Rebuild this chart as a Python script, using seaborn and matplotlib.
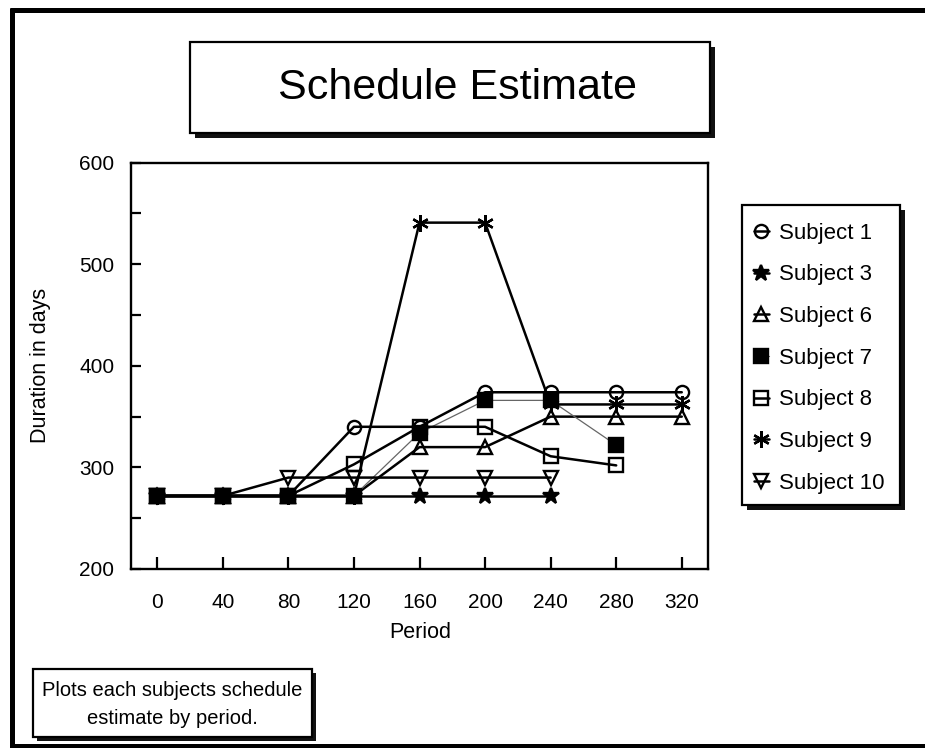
import matplotlib
matplotlib.use("Agg")
import matplotlib.pyplot as plt
from matplotlib.patches import Rectangle
from matplotlib.lines import Line2D
from matplotlib.ticker import MultipleLocator
import seaborn as sns
import pandas as pd

# ---- data ----
periods = [0, 40, 80, 120, 160, 200, 240, 280, 320]
subjects = ["Subject 1", "Subject 3", "Subject 6", "Subject 7",
            "Subject 8", "Subject 9", "Subject 10"]
subject_1 = [272, 272, 272, 340, 340, 374, 374, 374, 374]
subject_3 = [272, 272, 272, 272, 272, 272, 272]
subject_6 = [272, 272, 272, 272, 320, 320, 350, 350, 350]
subject_7 = [272, 272, 272, 272, 334, 366, 366, 322]
subject_8 = [272, 272, 272, 303, 340, 340, 311, 302]
subject_9 = [272, 272, 272, 272, 541, 541, 362, 362, 362]
subject_10 = [272, 272, 290, 290, 290, 290, 290]
series = [subject_1, subject_3, subject_6, subject_7,
          subject_8, subject_9, subject_10]

y_ticks = [200, 300, 400, 500, 600]

rows = []
for name, vals in zip(subjects, series):
    for p, v in zip(periods, vals):
        rows.append({"subject": name, "period": p, "duration": v})
df = pd.DataFrame(rows)

# ---- styling per subject ----
styles = {
    "Subject 1":  dict(marker="o", ms=9.5, fill=False, lw=1.8, color="black"),
    "Subject 3":  dict(marker="*", ms=12, fill=True, lw=1.8, color="black"),
    "Subject 6":  dict(marker="^", ms=10, fill=False, lw=1.8, color="black"),
    "Subject 7":  dict(marker="s", ms=9.5, fill=True, lw=0.9, color="#666666"),
    "Subject 8":  dict(marker="s", ms=9.5, fill=False, lw=1.8, color="black"),
    "Subject 9":  dict(marker=(6, 2, 0), ms=12, fill=False, lw=1.8, color="black"),
    "Subject 10": dict(marker="v", ms=10, fill=False, lw=1.8, color="black"),
}

sns.set_style("ticks")
plt.rcParams["font.family"] = ["Liberation Sans", "DejaVu Sans"]
plt.rcParams.update({"text.color": "black", "axes.labelcolor": "black",
                     "xtick.color": "black", "ytick.color": "black",
                     "axes.edgecolor": "black"})

W, H = 925, 748
fig = plt.figure(figsize=(W / 100, H / 100), dpi=100)
fig.patch.set_facecolor("white")


def fx(x):
    return x / W


def fy(y):
    return 1 - y / H


ax = fig.add_axes([fx(131), fy(569), (708 - 131) / W, (569 - 162.7) / H])

handles = []
for name in subjects:
    st = styles[name]
    sub = df[df["subject"] == name]
    sns.lineplot(data=sub, x="period", y="duration", ax=ax,
                 estimator=None, sort=False, color=st["color"],
                 linewidth=st["lw"], marker=st["marker"],
                 markersize=st["ms"], markeredgecolor="black",
                 markeredgewidth=1.7, legend=False)
    line = ax.lines[-1]
    line.set_markerfacecolor("black" if st["fill"] else "none")
    line.set_markeredgecolor("black")
    handles.append(line)

ax.set_xlim(-16, 336)
ax.set_ylim(200, 600)
ax.set_xticks(periods)
ax.set_xticklabels([str(p) for p in periods])
ax.set_yticks(y_ticks)
ax.set_yticklabels([str(t) for t in y_ticks])
ax.yaxis.set_minor_locator(MultipleLocator(50))

for sp in ax.spines.values():
    sp.set_visible(True)
    sp.set_linewidth(1.7)
    sp.set_color("black")

ax.tick_params(axis="x", which="major", direction="in", length=9,
               width=1.6, labelsize=15, pad=17, colors="black")
ax.tick_params(axis="y", which="both", direction="in", length=7,
               width=1.6, labelsize=15, pad=12, colors="black")
ax.set_facecolor("white")
ax.grid(False)

ax.set_xlabel("Period", fontsize=15.5)
ax.xaxis.set_label_coords((420 - 131) / 577, (569 - 633) / 406.3)
ax.xaxis.label.set_verticalalignment("center")
ax.set_ylabel("Duration in days", fontsize=15.5)
ax.yaxis.set_label_coords((41 - 131) / 577, 0.5)
ax.yaxis.label.set_rotation_mode("default")
ax.yaxis.label.set_verticalalignment("center")
ax.yaxis.label.set_horizontalalignment("center")


def boxed(x0, y0, x1, y1, shadow=5, lw=1.6):
    fig.add_artist(Rectangle((fx(x0 + shadow), fy(y1 + shadow)),
                             (x1 - x0) / W, (y1 - y0) / H,
                             transform=fig.transFigure, facecolor="#111111",
                             edgecolor="none", zorder=1))
    fig.add_artist(Rectangle((fx(x0), fy(y1)), (x1 - x0) / W, (y1 - y0) / H,
                             transform=fig.transFigure, facecolor="white",
                             edgecolor="black", linewidth=lw, zorder=2))


# title box
boxed(190, 42, 710, 133)
fig.text(fx(457), fy(88), "Schedule Estimate", fontsize=31,
         ha="center", va="center", zorder=3)

# legend box
boxed(742, 205, 900, 505, shadow=5)
leg = fig.legend(handles, subjects, loc="upper left",
                 bbox_to_anchor=(fx(747), fy(216)), frameon=False,
                 fontsize=16, handlelength=0.7, handletextpad=0.45,
                 labelspacing=0.93, borderpad=0.3, borderaxespad=0)
leg.set_zorder(4)

# footnote box
boxed(33, 669, 312, 737, shadow=4)
fig.text(fx(172), fy(690), "Plots each subjects schedule", fontsize=14.5,
         ha="center", va="center", zorder=3)
fig.text(fx(172), fy(718), "estimate by period.", fontsize=14.5,
         ha="center", va="center", zorder=3)

# outer frame
for xs, ys in [((12, 12), (8, 748)), ((10, 925), (10, 10)),
               ((10, 925), (745.5, 745.5))]:
    fig.add_artist(Line2D([fx(x) for x in xs], [fy(y) for y in ys],
                          transform=fig.transFigure, color="black",
                          linewidth=3.6, solid_capstyle="butt"))

fig.savefig("out.png", dpi=100, facecolor="white")
